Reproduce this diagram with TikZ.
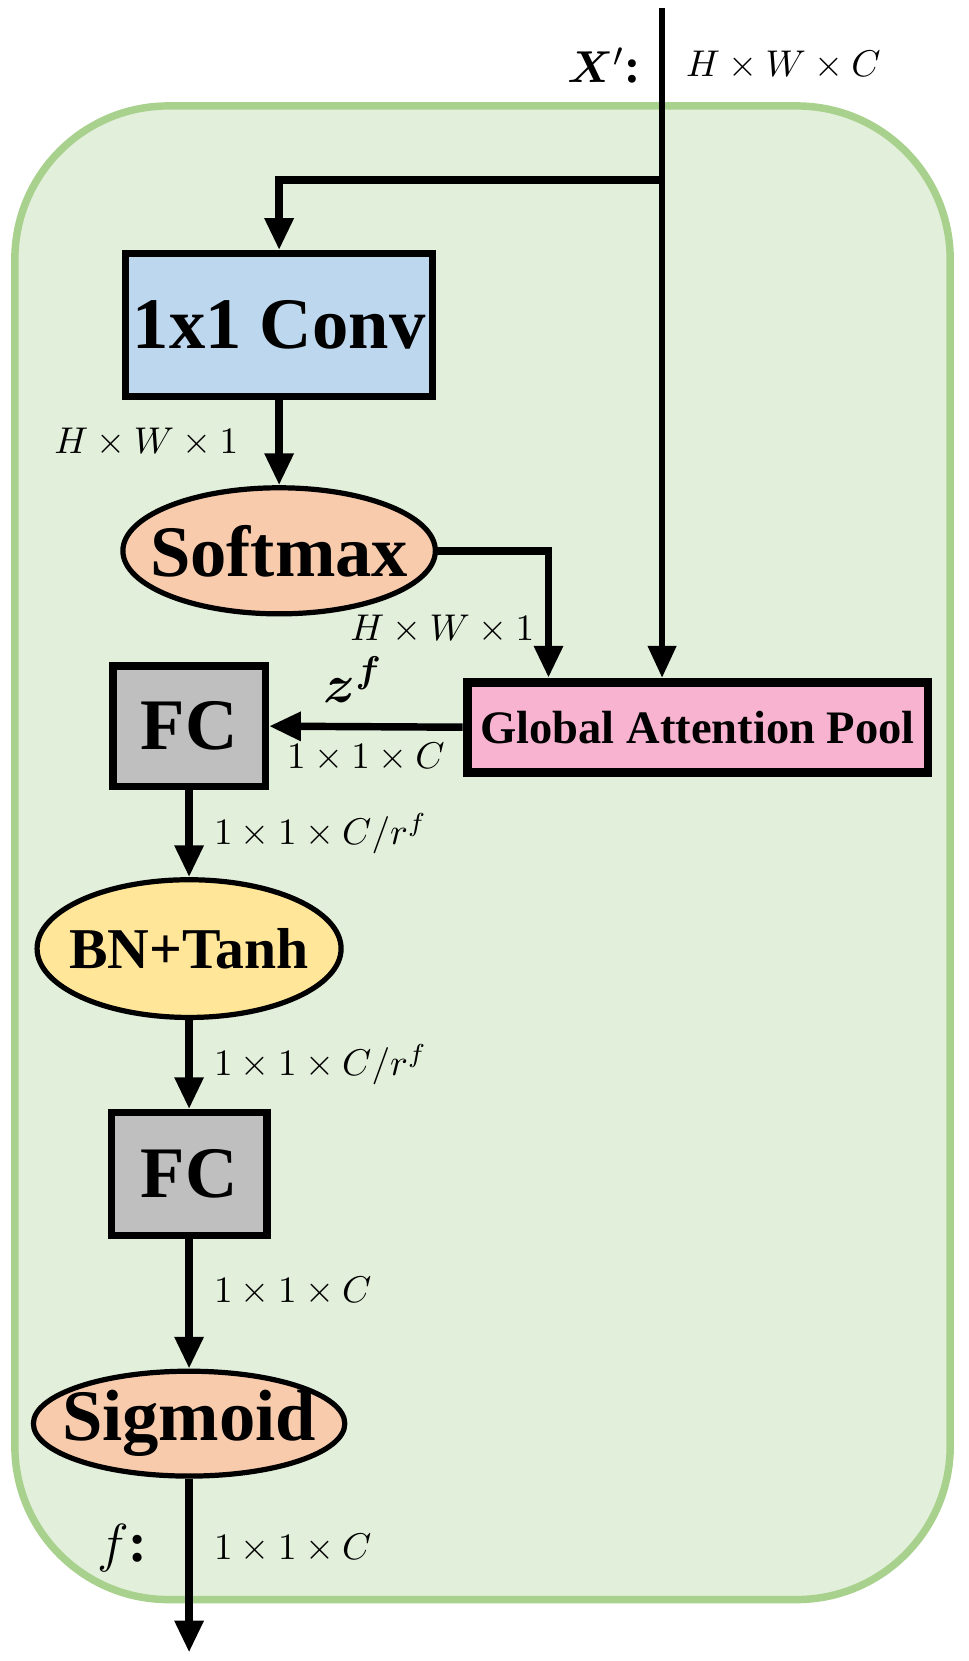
\documentclass[tikz,border=0pt]{standalone}
\usepackage{amsmath,amssymb}
\usepackage{bm}
\usepackage{fontspec}
\setmainfont{Liberation Serif}
\usetikzlibrary{shapes.geometric, arrows.meta, positioning, calc}

\definecolor{blockline}{HTML}{A9D18E}
\definecolor{blockfill}{HTML}{E2EFDA}
\definecolor{convblue}{HTML}{BDD7EE}
\definecolor{actpeach}{HTML}{F8CBAD}
\definecolor{fcgray}{HTML}{BFBFBF}
\definecolor{bnyellow}{HTML}{FFE699}
\definecolor{poolpink}{HTML}{F7B3CF}

% text may run past the ellipse's inner box
\newcommand{\slimtext}[1]{\makebox[0pt][c]{#1}}

\begin{document}
\begin{tikzpicture}[
    node distance = 0.8cm,
    opbox/.style = {
        rectangle, draw=black, line width=2pt, inner sep=0pt,
        font=\fontsize{19.5}{22}\selectfont\bfseries
    },
    actnode/.style = {
        ellipse, draw=black, line width=1.4pt, fill=actpeach, inner sep=0pt,
        font=\fontsize{19.5}{22}\selectfont\bfseries
    },
    arr/.style = {-{Triangle[length=3mm, width=2.6mm]}, line width=2pt},
    dim/.style = {font=\fontsize{10.3}{12}\selectfont, inner sep=0pt},
]
\useasboundingbox (0,0) rectangle (9.14,-15.68);

% attention block
\draw[blockline, fill=blockfill, line width=2pt, rounded corners=1.45cm]
    (0.14,-1.00) rectangle (8.97,-15.10);

\node[opbox, fill=convblue, minimum width=2.90cm, minimum height=1.35cm]
    (conv) at (2.635,-3.07) {1x1 Conv};
\node[actnode, minimum width=2.95cm, minimum height=1.19cm, below=of conv]
    (softmax) {\slimtext{Softmax}};
\node[opbox, fill=poolpink, line width=2.4pt, minimum width=4.35cm, minimum height=0.85cm,
    font=\fontsize{12.5}{14}\selectfont\bfseries] (pool) at (6.585,-6.865) {Global Attention Pool};
\node[opbox, fill=fcgray, minimum width=1.44cm, minimum height=1.14cm]
    (fc1) at (1.785,-6.855) {FC};
\node[actnode, fill=bnyellow, minimum width=2.87cm, minimum height=1.30cm,
    font=\fontsize{15.5}{18}\selectfont\bfseries, below=0.82cm of fc1] (bn) {\slimtext{BN+Tanh}};
\node[opbox, fill=fcgray, minimum width=1.47cm, minimum height=1.16cm, below=0.84cm of bn]
    (fc2) {FC};
\node[actnode, minimum width=2.94cm, minimum height=0.99cm, below=1.22cm of fc2]
    (sigmoid) {\slimtext{Sigmoid}};

\coordinate (xin) at (6.25,-0.08);
\coordinate (split) at (6.25,-1.70);
\coordinate (yout) at ($(sigmoid.south)+(0,-1.64)$);

% input feature map
\draw[arr, line width=1.5pt] (xin) -- (xin |- pool.north)
    node[pos=0.085, left=0.06cm, font=\fontsize{13}{15}\selectfont] {$\bm{X}'$\textbf{:}}
    node[pos=0.085, right=0.2cm, dim] {$H\times W\times C$};
\draw[arr] (split) -| (conv.north);

\draw[arr] (conv) -- (softmax) node[midway, left=0.35cm, dim] {$H\times W\times 1$};
\draw[arr] (softmax.east) -| ([xshift=0.81cm]pool.north west)
    node[pos=0.81, left=0.1cm, dim] {$H\times W\times 1$};
\draw[arr] (pool.west) -- (fc1.east)
    node[midway, above=0.08cm, xshift=-0.12cm, font=\fontsize{14}{16}\selectfont] {$\bm{z^f}$}
    node[midway, below=0.12cm, dim] {$1\times 1\times C$};

\draw[arr] (fc1) -- (bn) node[midway, right=0.2cm, dim] {$1\times 1\times C/r^f$};
\draw[arr] (bn) -- (fc2) node[midway, right=0.2cm, dim] {$1\times 1\times C/r^f$};
\draw[arr] (fc2) -- (sigmoid) node[pos=0.4, right=0.2cm, dim] {$1\times 1\times C$};
\draw[arr] (sigmoid) -- (yout)
    node[pos=0.4, right=0.2cm, dim] {$1\times 1\times C$}
    node[pos=0.4, left=0.24cm, font=\fontsize{15}{17}\selectfont] {$f$\textbf{:}};

\end{tikzpicture}
\end{document}
